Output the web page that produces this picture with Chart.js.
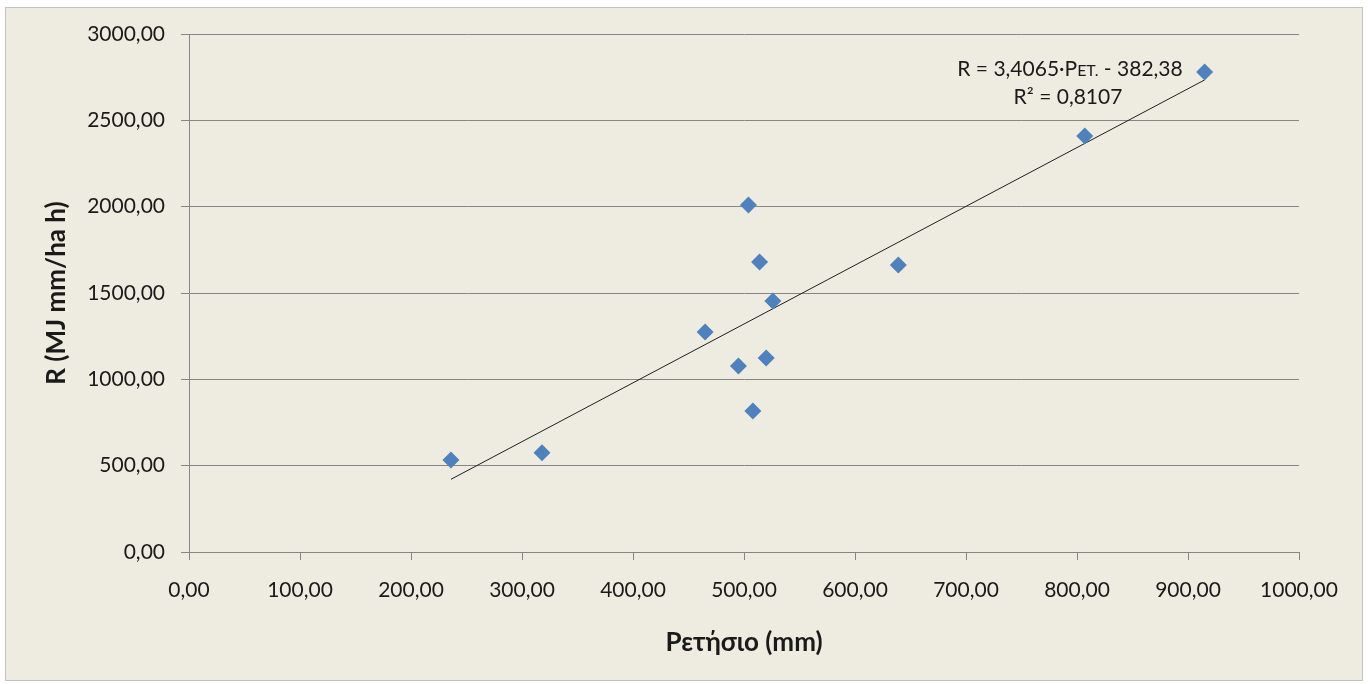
<!DOCTYPE html>
<html>
<head>
<meta charset="utf-8">
<script src="https://cdn.jsdelivr.net/npm/chart.js@4.4.1/dist/chart.umd.min.js"></script>
<style>
  html, body { margin: 0; padding: 0; background: #ffffff; }
  #wrap { width: 1368px; height: 684px; position: relative; }
</style>
</head>
<body>
<div id="wrap"><canvas id="c" width="1368" height="684"></canvas></div>
<script>
// Data
const annualRain = [236, 318, 465, 495, 504, 508, 514, 520, 526, 639, 807, 915];
const erosivityR = [533, 575, 1274, 1077, 2010, 817, 1680, 1124, 1454, 1662, 2409, 2780];
const trendX = [236, 915];
const trendY = [421, 2734];
const xTicks = [0, 100, 200, 300, 400, 500, 600, 700, 800, 900, 1000];
const yTicks = [0, 500, 1000, 1500, 2000, 2500, 3000];
const xTitle = 'Ρετήσιο (mm)';
const yTitle = 'R (MJ mm/ha h)';
const eqLine1a = 'R = 3,4065·Ρ';
const eqLine1b = 'ΕΤ.';
const eqLine1c = ' - 382,38';
const eqLine2 = 'R² = 0,8107';

const FONT = 'Lato, "Open Sans", "DejaVu Sans", sans-serif';
const fmt = v => v.toFixed(2).replace('.', ',');

const bgPlugin = {
  id: 'bg',
  beforeDraw(chart) {
    const ctx = chart.ctx;
    ctx.save();
    ctx.fillStyle = '#ffffff';
    ctx.fillRect(0, 0, chart.width, chart.height);
    ctx.fillStyle = '#EEECE1';
    ctx.fillRect(5, 7, 1358, 674);
    ctx.strokeStyle = '#c3c3c3';
    ctx.lineWidth = 1;
    ctx.strokeRect(5.5, 7.5, 1357, 673);
    ctx.restore();
  }
};

const eqPlugin = {
  id: 'eq',
  afterDraw(chart) {
    const ctx = chart.ctx;
    ctx.save();
    ctx.fillStyle = '#1a1a1a';
    ctx.textBaseline = 'middle';
    const big = '21px ' + FONT;
    const small = '16px ' + FONT;
    ctx.font = big;
    const wa = ctx.measureText(eqLine1a).width;
    const wc = ctx.measureText(eqLine1c).width;
    ctx.font = small;
    const wb = ctx.measureText(eqLine1b).width;
    const total = wa + wb + wc;
    const cx = 1070, y1 = 69, y2 = 97;
    let x = cx - total / 2;
    ctx.textAlign = 'left';
    ctx.font = big;
    ctx.fillText(eqLine1a, x, y1);
    x += wa;
    ctx.font = small;
    ctx.fillText(eqLine1b, x, y1 + 2);
    x += wb;
    ctx.font = big;
    ctx.fillText(eqLine1c, x, y1);
    ctx.textAlign = 'center';
    ctx.fillText(eqLine2, 1068, y2);
    ctx.restore();
  }
};

new Chart(document.getElementById('c'), {
  type: 'scatter',
  data: {
    datasets: [
      {
        label: 'R',
        data: annualRain.map((v, i) => ({ x: v, y: erosivityR[i] })),
        pointStyle: 'rectRot',
        pointRadius: 8.5,
        pointHoverRadius: 8.5,
        backgroundColor: '#4F81BD',
        borderColor: '#4F81BD',
        borderWidth: 0,
        order: 1
      },
      {
        type: 'line',
        label: 'trend',
        data: trendX.map((v, i) => ({ x: v, y: trendY[i] })),
        borderColor: '#1f1f1f',
        borderWidth: 1,
        pointRadius: 0,
        fill: false,
        order: 2
      }
    ]
  },
  options: {
    responsive: false,
    animation: false,
    devicePixelRatio: 1,
    layout: { padding: { top: 34, right: 69, left: 0, bottom: 0 } },
    plugins: {
      legend: { display: false },
      tooltip: { enabled: false }
    },
    scales: {
      x: {
        type: 'linear',
        min: 0, max: 1000,
        afterBuildTicks(scale) { scale.ticks = xTicks.map(v => ({ value: v })); },
        afterFit(scale) { scale.height = 132; },
        grid: { drawOnChartArea: false, drawTicks: true, tickLength: 8, color: '#868686', lineWidth: 1 },
        border: { display: true, color: '#868686', width: 1 },
        ticks: {
          callback: v => fmt(v),
          font: { family: FONT, size: 21 },
          color: '#1a1a1a',
          padding: 18,
          maxRotation: 0,
          autoSkip: false
        },
        title: {
          display: true,
          text: xTitle,
          font: { family: FONT, size: 26, weight: 'bold' },
          color: '#1a1a1a',
          padding: { top: 0, bottom: 26 }
        }
      },
      y: {
        type: 'linear',
        min: 0, max: 3000,
        afterBuildTicks(scale) { scale.ticks = yTicks.map(v => ({ value: v })); },
        afterFit(scale) { scale.width = 189; },
        grid: { drawOnChartArea: true, drawTicks: true, tickLength: 8, color: '#868686', lineWidth: 1 },
        border: { display: true, color: '#868686', width: 1 },
        ticks: {
          callback: v => fmt(v),
          font: { family: FONT, size: 21 },
          color: '#1a1a1a',
          padding: 16,
          autoSkip: false
        },
        title: {
          display: true,
          text: yTitle,
          font: { family: FONT, size: 26, weight: 'bold' },
          color: '#1a1a1a',
          padding: { top: 41, bottom: 0 }
        }
      }
    }
  },
  plugins: [bgPlugin, eqPlugin]
});
</script>
</body>
</html>
